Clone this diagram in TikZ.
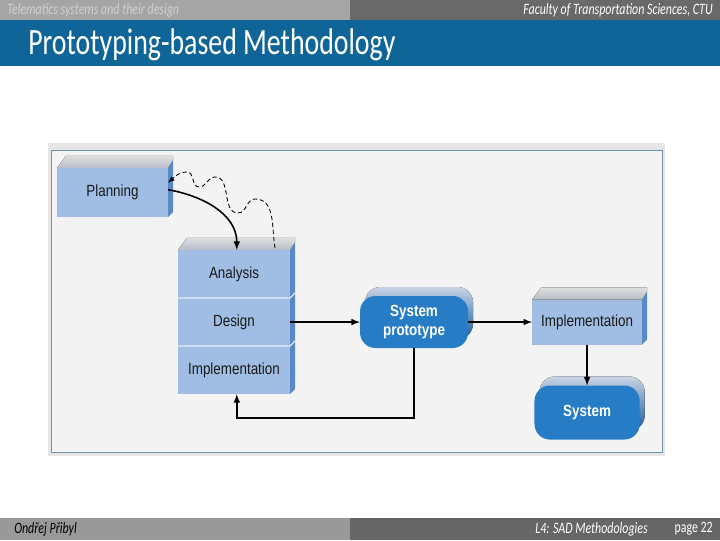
\documentclass[tikz,border=0pt]{standalone}
\usepackage{fontspec}
\usepackage{graphicx}
\setmainfont{Carlito}
\newfontfamily\diagfont{Liberation Sans}
\usetikzlibrary{arrows,positioning,calc,backgrounds}

\definecolor{hdrlight}{RGB}{165,165,165}
\definecolor{hdrtext}{RGB}{208,208,208}
\definecolor{hdrdark}{RGB}{105,105,105}
\definecolor{band}{RGB}{16,101,152}
\definecolor{footlight}{RGB}{153,153,153}
\definecolor{footdark}{RGB}{102,102,102}
\definecolor{frameout}{RGB}{230,230,230}
\definecolor{framebg}{RGB}{243,243,243}
\definecolor{frameline}{RGB}{110,150,175}
\definecolor{slabfront}{RGB}{160,190,228}
\definecolor{slabside}{RGB}{88,138,200}
\definecolor{slabtopA}{RGB}{222,222,222}
\definecolor{slabtopB}{RGB}{182,188,198}
\definecolor{pillfront}{RGB}{38,124,197}
\definecolor{pillside}{RGB}{24,92,160}
\definecolor{pilltop}{RGB}{200,212,228}
\definecolor{divider}{RGB}{226,234,246}

% squeezed text, as on the slide
\newcommand{\sq}[1]{\scalebox{0.75}[1]{#1}}
\newcommand{\dq}[1]{\scalebox{0.83}[1]{#1}}

\tikzstyle{hdr} = [inner sep=0pt, font=\fontsize{11.3}{13}\selectfont\itshape]
\tikzstyle{slab} = [rectangle, fill=slabfront, inner sep=0pt, outer sep=0pt,
    minimum width=2.8cm, minimum height=1.2cm, text=black!90,
    font=\diagfont\fontsize{11.5}{13.2}\selectfont]
\tikzstyle{pill} = [rectangle, rounded corners=11pt, fill=pillfront, inner sep=0pt,
    outer sep=0pt, minimum width=2.7cm, minimum height=1.3cm, text=white,
    font=\diagfont\bfseries\fontsize{11.5}{13.2}\selectfont]
\tikzstyle{pillback} = [rounded corners=11pt, top color=pilltop,
    middle color=pillside, bottom color=pillside]
\tikzstyle{topface} = [top color=slabtopA, bottom color=slabtopB]
\tikzstyle{sideface} = [fill=slabside]
\tikzstyle{divider} = [draw=divider, line width=0.8pt]
\tikzstyle{arrow} = [line width=1.1pt,->,>=latex]
\tikzstyle{wave} = [line width=0.6pt, dash pattern=on 3pt off 2pt,->,>=latex]

% top and right faces of a slab (or of a stack of slabs)
\newcommand{\slabfaces}[2]{%
  \fill[sideface] (#1.north east) -- ++(5,8) -- ($(#2.south east)+(5,5)$)
    -- (#2.south east) -- cycle;
  \fill[topface] (#1.north west) -- ++(9,12) -- ($(#1.north east)+(5,12)$)
    -- ($(#1.north east)+(5,8)$) -- (#1.north east) -- cycle;
}

\begin{document}
\begin{tikzpicture}[x=0.025cm, y=0.025cm, node distance=0pt]
\useasboundingbox (0,0) rectangle (720,540);
\begin{pgfonlayer}{background}
% slide header and footer
\fill[hdrlight] (0,520) rectangle (350,540);
\fill[hdrdark] (350,520) rectangle (720,540);
\fill[band] (0,474) rectangle (720,520);
\fill[footlight] (0,0) rectangle (350,22);
\fill[footdark] (350,0) rectangle (720,22);
% figure frame
\fill[frameout] (48,84) rectangle (665,397);
\filldraw[fill=framebg, draw=frameline, line width=0.7pt] (51,88) rectangle (662,390);
\end{pgfonlayer}

\node[hdr, text=hdrtext, anchor=west] (course) at (7,530) {\sq{Telematics systems and their design}};
\node[hdr, text=white, anchor=east] (faculty) at (713,530) {\sq{Faculty of Transportation Sciences, CTU}};
\node[anchor=base west, inner sep=0pt, text=white, font=\fontsize{26.4}{30}\selectfont]
  (title) at (28,485) {\sq{Prototyping-based Methodology}};
\node[hdr, text=black, anchor=west] (author) at (14,11) {\sq{Ondřej Přibyl}};
\node[hdr, text=white, anchor=west] (lecture) at (535,11) {\sq{L4: SAD Methodologies}};
\node[hdr, text=white, font=\fontsize{11.3}{13}\selectfont, anchor=east] (page) at (713,11) {\sq{page 22}};

% diagram
\node[slab, minimum width=2.775cm, minimum height=1.225cm] (plan) at (112.5,347.5) {\dq{Planning}};
\node[slab] (analysis) at (234,266) {\dq{Analysis}};
\node[slab, below=of analysis] (design) {\dq{Design}};
\node[slab, below=of design] (implA) {\dq{Implementation}};
\node[pill, right=1.75cm of design] (proto)
  {\dq{\begin{tabular}{@{}c@{}}System\\prototype\end{tabular}}};
\node[slab, minimum width=2.75cm, minimum height=1.125cm, right=1.6cm of proto] (impl) {\dq{Implementation}};
\node[pill, minimum width=2.63cm, minimum height=1.35cm, below=1.025cm of impl] (sys) {\dq{System}};

\slabfaces{plan}{plan}
\slabfaces{analysis}{implA}
\slabfaces{impl}{impl}
\begin{pgfonlayer}{background}
\fill[pillback] ($(proto.south west)+(5,9)$) rectangle ($(proto.north east)+(5,9)$);
\fill[pillback] ($(sys.south west)+(5,9)$) rectangle ($(sys.north east)+(5,9)$);
\end{pgfonlayer}
\draw[divider] (analysis.south west) -- (analysis.south east) -- ++(5,5);
\draw[divider] (design.south west) -- (design.south east) -- ++(5,5);

% connectors
\coordinate (w1) at (255,341);
\coordinate (w2) at (238,327);
\coordinate (w3) at (215,363);
\coordinate (w4) at (199,353);
\coordinate (w5) at (187,368);
\draw[arrow] ([yshift=2pt]plan.east) to[out=-10,in=90] ([xshift=2pt]analysis.north);
\draw[wave] ($(analysis.north east)+(-15,2)$) to[out=100,in=0] (w1)
  to[out=180,in=0] (w2) to[out=180,in=0] (w3) to[out=180,in=0] (w4)
  to[out=180,in=0] (w5) to[out=180,in=40] ([yshift=7pt]plan.east);
\draw[arrow] (design.east) -- (proto.west);
\draw[arrow] (proto.east) -- (proto.east -| impl.west);
\draw[arrow] (impl.south) -- (impl.south |- sys.north);
\draw[arrow] (proto.south) -- ++(0,-70) -| ([xshift=2pt]implA.south);
\end{tikzpicture}
\end{document}
